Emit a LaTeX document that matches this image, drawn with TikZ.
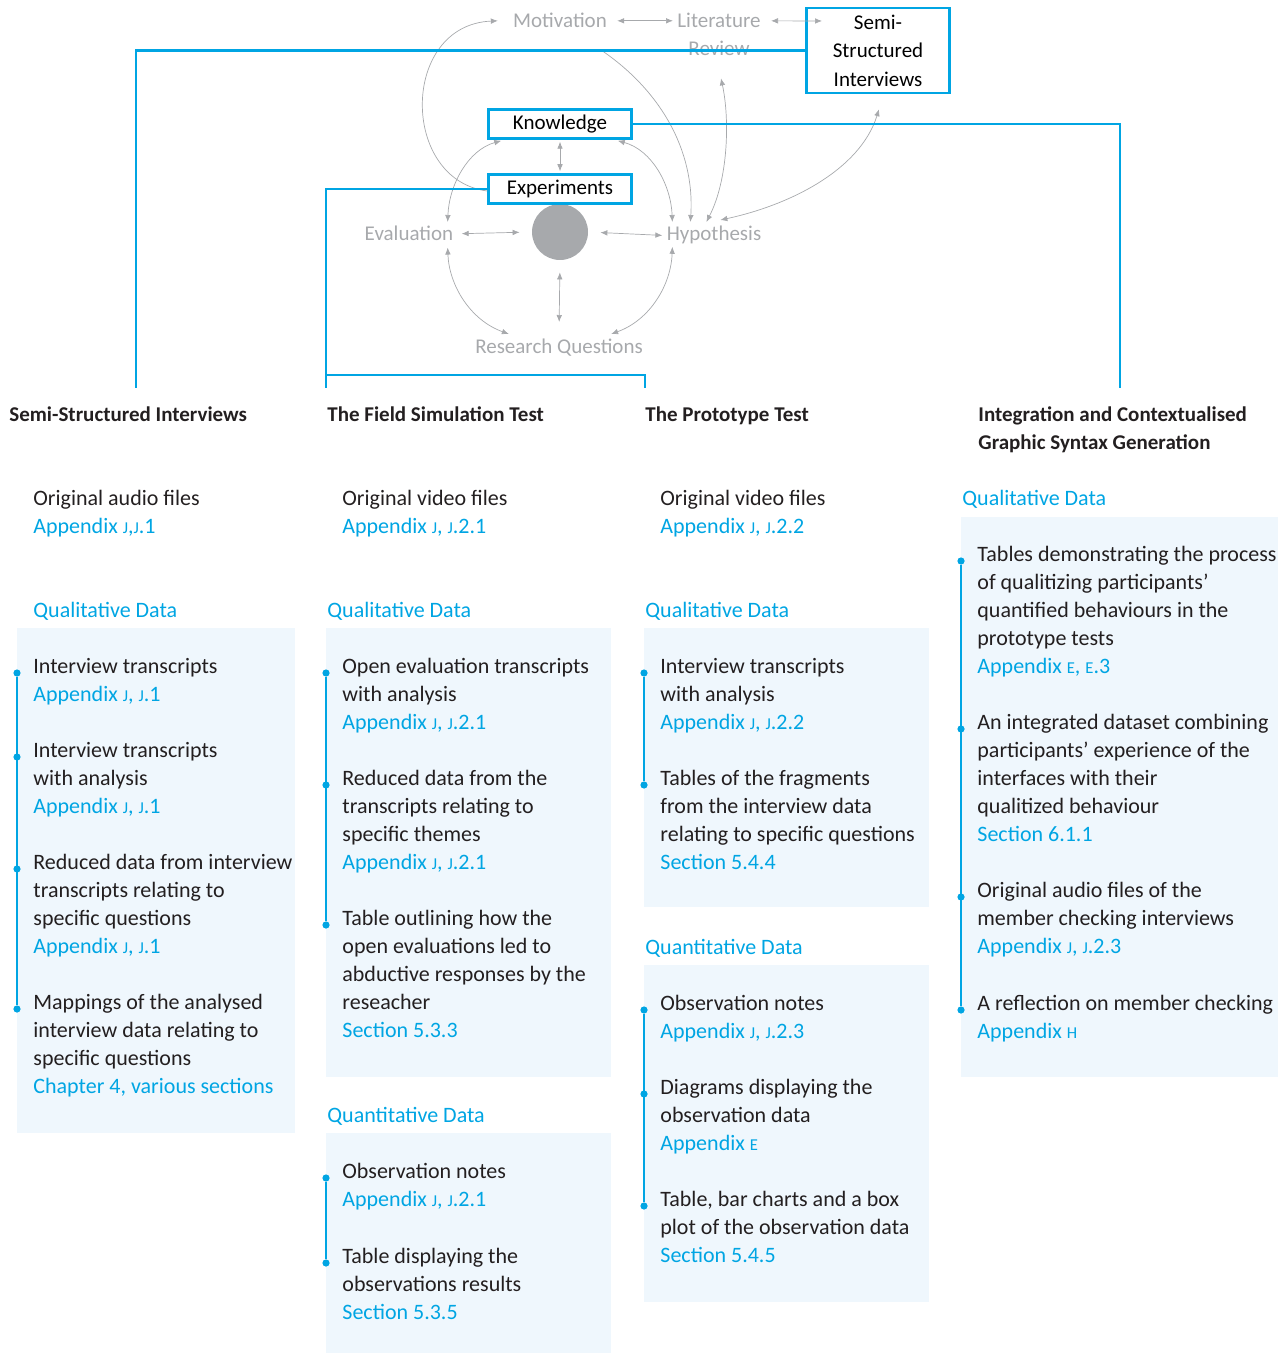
\documentclass[tikz,border=0pt]{standalone}
\usepackage{fontspec}
\setmainfont{Carlito}
\newfontfamily\boxfont{Carlito}
\usetikzlibrary{arrows.meta,positioning,calc}
\definecolor{thesisBlue}{RGB}{0,165,227}
\definecolor{thesisPanel}{RGB}{239,247,253}
\definecolor{thesisGrey}{RGB}{167,169,172}
\definecolor{thesisInk}{RGB}{35,31,32}
% small capitals for appendix letters
\newcommand{\smallcap}[1]{{\fontsize{8.3}{14}\selectfont #1}}
\newcommand{\capJ}{\smallcap{J}}
\newcommand{\capE}{\smallcap{E}}
\newcommand{\capH}{\smallcap{H}}
\newcommand{\refnote}[1]{\textcolor{thesisBlue}{#1}}

\begin{document}
\begin{tikzpicture}[
  x=0.5pt, y=-0.5pt,
  bodyfont/.style={font=\fontsize{11}{14}\selectfont},
  gtxt/.style={font=\fontsize{10.5}{14}\selectfont, text=thesisGrey, inner sep=2pt, anchor=base},
  bluebox/.style={draw=thesisBlue, line width=1.25pt, fill=white, inner sep=0pt,
                  font=\boxfont\fontsize{10.5}{14.25}\selectfont, text=black,
                  minimum width=71.5pt, minimum height=14.5pt, align=center},
  hub/.style={circle, fill=thesisGrey, minimum size=28pt, inner sep=0pt},
  garr/.style={{Latex[length=3.5pt,width=2.8pt]}-{Latex[length=3.5pt,width=2.8pt]},
               draw=thesisGrey, line width=0.35pt},
  gone/.style={-{Latex[length=3.5pt,width=2.8pt]}, draw=thesisGrey, line width=0.35pt},
  blueline/.style={draw=thesisBlue, line width=1.25pt},
  tline/.style={draw=thesisBlue, line width=0.7pt},
  tldot/.style={circle, fill=thesisBlue, inner sep=0pt, minimum size=3.6pt},
  colhead/.style={font=\bfseries\fontsize{10.5}{14}\selectfont, text=thesisInk,
                  inner sep=0pt, anchor=north west, yshift=9.8pt, align=left,
                  execute at begin node=\strut},
  kind/.style={bodyfont, text=thesisBlue, inner sep=0pt, anchor=base west},
  itemtext/.style={bodyfont, text=thesisInk, inner sep=0pt, anchor=north west,
                   yshift=7.55pt, align=left, execute at begin node=\strut},
]
\useasboundingbox (0,0) rectangle (1284,1353);

% ─── helper macro: one entry on a timeline ─────────────────────
% #1=name, #2=x of timeline, #3=first baseline, #4=lines, #5=reference
\newcommand{\dataitem}[5]{%
  \node[tldot] (#1dot) at (#2,#3) {};
  \node[itemtext] (#1) at ({#2+16},#3) {#4\\\refnote{#5}};
}

% ─── panels ────────────────────────────────────────────────────
\fill[thesisPanel] (17,628) rectangle (295,1133);
\fill[thesisPanel] (326,628) rectangle (611,1077);
\fill[thesisPanel] (326,1133) rectangle (611,1353);
\fill[thesisPanel] (644,628) rectangle (929,907);
\fill[thesisPanel] (644,965) rectangle (929,1302);
\fill[thesisPanel] (961,517) rectangle (1278,1077);

% ─── research cycle (grey) ─────────────────────────────────────
\node[gtxt] (mot)  at (560,28)  {Motivation};
\node[gtxt, anchor=north, align=center] (lit) at (719,9) {Literature\\Review};
\node[gtxt] (eval) at (409,241) {Evaluation};
\node[gtxt] (hyp)  at (714,241) {Hypothesis};
\node[gtxt] (rq)   at (559,353) {Research Questions};
\node[hub]  (core) at (560,232) {};

\node[bluebox] (know) at (560,124) {Knowledge};
\node[bluebox] (expt) at (560,189) {Experiments};
\node[bluebox, minimum height=42.5pt] (semi) at (878,50.5)
    {Semi-\\Structured\\Interviews};
\coordinate (semitip) at (822,21);
\coordinate (motlink) at (601,50);

\draw[garr, shorten <=3pt] (mot.east) -- (mot.east -| lit.west);
\draw[garr, shorten <=3pt] (lit.east |- mot.east) -- (semitip);
\draw[garr, shorten <=1pt, shorten >=1pt] (know.south) -- (expt.north);
\draw[garr, shorten <=2pt, shorten >=6pt] (eval.east) -- (core.west);
\draw[garr, shorten <=6pt] (core.east) -- (hyp.west);
\draw[garr, shorten <=6pt, shorten >=6pt] (core.south) -- (rq.north);

\draw[garr] ($(know.south west)+(14,1)$) .. controls (468,150) and (449,185)
            .. ($(eval.north east)+(-10,0)$);
\draw[garr] ($(know.south east)+(-15,1)$) .. controls (652,150) and (671,185)
            .. ($(hyp.north west)+(10,0)$);
\draw[garr] ($(eval.south east)+(-10,2)$) .. controls (449,285) and (470,320)
            .. ($(rq.north west)+(38,0)$);
\draw[garr] ($(hyp.south west)+(10,-2)$) .. controls (671,285) and (650,320)
            .. ($(rq.north east)+(-36,0)$);
\draw[gone] ($(expt.west)+(0,2)$) .. controls (400,180) and (400,25)
            .. ($(mot.west)+(-11,0)$);
\draw[gone] (motlink) .. controls (660,90) and (695,150)
            .. ($(hyp.north west)+(28,0)$);
\draw[garr] ($(lit.south)+(2,18)$) .. controls (730,120) and (728,180)
            .. ($(hyp.north west)+(44,0)$);
\draw[garr] ($(semi.south)+(1,15)$) .. controls (860,170) and (790,205)
            .. ($(hyp.north west)+(58,-2)$);

% ─── column headings ───────────────────────────────────────────
\node[colhead] (head1) at (9,421)   {Semi-Structured Interviews};
\node[colhead] (head2) at (327,421) {The Field Simulation Test};
\node[colhead] (head3) at (645,421) {The Prototype Test};
\node[colhead, yshift=-2.4pt] (head4) at (978,421)
    {Integration and Contextualised\\Graphic Syntax Generation};

\coordinate (semitop)  at (136,388);
\coordinate (fieldtop) at (326,388);
\coordinate (prototop) at (645,388);
\coordinate (integtop) at (1120,388);

\draw[blueline] (semi.west) -| (semitop);
\draw[blueline] (know.east) -| (integtop);
\draw[blueline] (expt.west) -| (fieldtop);
\draw[blueline] ([yshift=6.5pt]fieldtop) -| (prototop);

% ─── Column 1: semi-structured interviews ──────────────────────
\node[itemtext] (sqraw) at (33,505) {Original audio files\\\refnote{Appendix \capJ,\capJ.1}};
\node[kind] (sqql) at (33,617) {Qualitative Data};
\dataitem{sqa}{17}{673}{Interview transcripts}{Appendix \capJ, \capJ.1}
\dataitem{sqb}{17}{757}{Interview transcripts\\with analysis}{Appendix \capJ, \capJ.1}
\dataitem{sqc}{17}{869}{Reduced data from interview\\transcripts relating to\\specific questions}{Appendix \capJ, \capJ.1}
\dataitem{sqd}{17}{1009}{Mappings of the analysed\\interview data relating to\\specific questions}{Chapter 4, various sections}
\draw[tline] (sqadot) -- (sqddot);

% ─── Column 2: field simulation test ───────────────────────────
\node[itemtext] (fsraw) at (342,505) {Original video files\\\refnote{Appendix \capJ, \capJ.2.1}};
\node[kind] (fsql) at (327,617) {Qualitative Data};
\dataitem{fsa}{326}{673}{Open evaluation transcripts\\with analysis}{Appendix \capJ, \capJ.2.1}
\dataitem{fsb}{326}{785}{Reduced data from the\\transcripts relating to\\specific themes}{Appendix \capJ, \capJ.2.1}
\dataitem{fsc}{326}{925}{Table outlining how the\\open evaluations led to\\abductive responses by the\\reseacher}{Section 5.3.3}
\draw[tline] (fsadot) -- (fscdot);
\node[kind] (fsqn) at (327,1122) {Quantitative Data};
\dataitem{fsd}{326}{1178}{Observation notes}{Appendix \capJ, \capJ.2.1}
\dataitem{fse}{326}{1263}{Table displaying the\\observations results}{Section 5.3.5}
\draw[tline] (fsddot) -- (fsedot);

% ─── Column 3: prototype test ──────────────────────────────────
\node[itemtext] (ptraw) at (660,505) {Original video files\\\refnote{Appendix \capJ, \capJ.2.2}};
\node[kind] (ptql) at (645,617) {Qualitative Data};
\dataitem{pta}{644}{673}{Interview transcripts\\with analysis}{Appendix \capJ, \capJ.2.2}
\dataitem{ptb}{644}{785}{Tables of the fragments\\from the interview data\\relating to specific questions}{Section 5.4.4}
\draw[tline] (ptadot) -- (ptbdot);
\node[kind] (ptqn) at (645,954) {Quantitative Data};
\dataitem{ptc}{644}{1010}{Observation notes}{Appendix \capJ, \capJ.2.3}
\dataitem{ptd}{644}{1094}{Diagrams displaying the\\observation data}{Appendix \capE}
\dataitem{pte}{644}{1206}{Table, bar charts and a box\\plot of the observation data}{Section 5.4.5}
\draw[tline] (ptcdot) -- (ptedot);

% ─── Column 4: integration ─────────────────────────────────────
\node[kind] (igql) at (962,505) {Qualitative Data};
\dataitem{iga}{961}{561}{Tables demonstrating the process\\of qualitizing participants’\\quantified behaviours in the\\prototype tests}{Appendix \capE, \capE.3}
\dataitem{igb}{961}{729}{An integrated dataset combining\\participants’ experience of the\\interfaces with their\\qualitized behaviour}{Section 6.1.1}
\dataitem{igc}{961}{897}{Original audio files of the\\member checking interviews}{Appendix \capJ, \capJ.2.3}
\dataitem{igd}{961}{1010}{A reflection on member checking}{Appendix \capH}
\draw[tline] (igadot) -- (igddot);

\end{tikzpicture}
\end{document}
